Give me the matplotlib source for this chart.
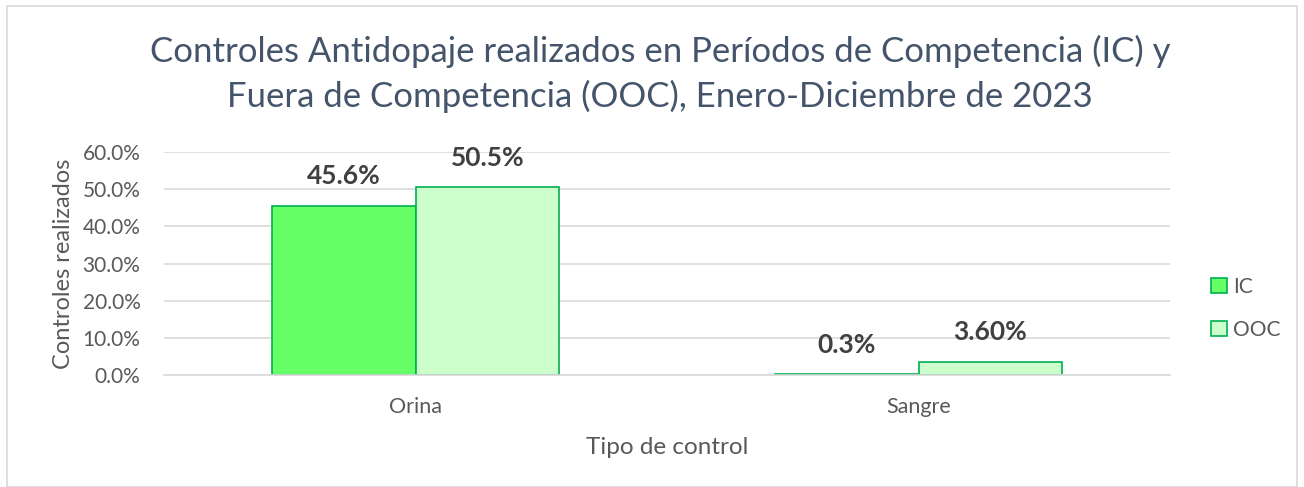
import numpy as np
import matplotlib.pyplot as plt
from matplotlib.patches import Rectangle

categories = ["Orina", "Sangre"]
ic_values = [45.6, 0.3]
ooc_values = [50.5, 3.6]
ic_labels = ["45.6%", "0.3%"]
ooc_labels = ["50.5%", "3.60%"]
yticks = [0, 10, 20, 30, 40, 50, 60]

plt.rcParams["font.family"] = ["Lato", "DejaVu Sans"]
TXT = "#595959"

fig = plt.figure(figsize=(13.04, 4.87), dpi=100)
fig.patches.append(Rectangle((7 / 1304, 0), 1 - 14 / 1304, 1 - 6 / 487,
                             transform=fig.transFigure, fill=False,
                             edgecolor="#d9d9d9", linewidth=1.2))
ax = fig.add_axes([164 / 1304, (487 - 375) / 487, (1170 - 164) / 1304, (375 - 152) / 487])

x = np.arange(len(categories))
w = 0.286
b1 = ax.bar(x - w / 2, ic_values, w, color="#66FF66", edgecolor="#00B050", linewidth=1.2, label="IC")
b2 = ax.bar(x + w / 2, ooc_values, w, color="#CCFFCC", edgecolor="#00B050", linewidth=1.2, label="OOC")

# etiquetas de datos encima de cada barra
for bars, labels in [(b1, ic_labels), (b2, ooc_labels)]:
    for rect, lab in zip(bars, labels):
        ax.annotate(lab, (rect.get_x() + rect.get_width() / 2, rect.get_height()),
                    xytext=(0, 21), textcoords="offset points",
                    ha="center", va="center", fontsize=19, fontweight="bold", color="#404040")

ax.set_xlim(-0.5, 1.5)
ax.set_ylim(0, 60)
ax.set_yticks(yticks)
ax.set_yticklabels([f"{v:.1f}%" for v in yticks])
ax.set_xticks(x)
ax.set_xticklabels(categories)
ax.tick_params(axis="both", length=0, colors=TXT)
ax.tick_params(axis="y", pad=17, labelsize=15)
ax.tick_params(axis="x", pad=16, labelsize=15.5)
ax.grid(axis="y", color="#d9d9d9", linewidth=1.2)
ax.set_axisbelow(True)
for s in ["top", "right", "left"]:
    ax.spines[s].set_visible(False)
ax.spines["bottom"].set_color("#d9d9d9")
ax.spines["bottom"].set_linewidth(1.2)

ax.set_xlabel("Tipo de control", fontsize=17.5, color=TXT, labelpad=14)
ax.set_ylabel("Controles realizados", fontsize=17, color=TXT, labelpad=6)

fig.text(660 / 1304, 1 - 74 / 487,
         "Controles Antidopaje realizados en Períodos de Competencia (IC) y\n"
         "Fuera de Competencia (OOC), Enero-Diciembre de 2023",
         ha="center", va="center", fontsize=25, color="#44546A", linespacing=1.42)

ax.legend(loc="center left", bbox_to_anchor=(1.022, 0.30), frameon=False,
          fontsize=15, labelcolor=TXT, handlelength=0.75, handleheight=0.75,
          labelspacing=1.1, handletextpad=0.3)

fig.savefig("out.png", dpi=100)
